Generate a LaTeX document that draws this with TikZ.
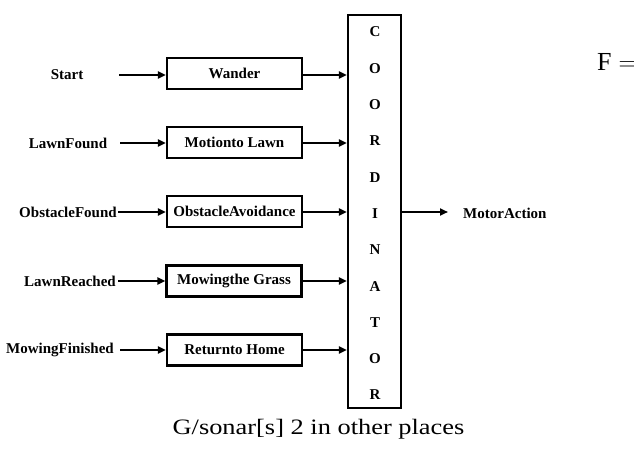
\documentclass[tikz,border=0pt]{standalone}
\usepackage{fontspec}
\setmainfont{Liberation Serif}
\usetikzlibrary{arrows.meta}
\begin{document}
\begin{tikzpicture}[x=1pt,y=-1pt,
  lbl/.style={font=\bfseries\fontsize{15}{18}\selectfont, inner sep=0pt},
  blk/.style={draw, line width=2.2pt, minimum width=135pt, minimum height=31pt, inner sep=0pt,
    font=\bfseries\fontsize{15}{18}\selectfont},
  arr/.style={line width=2.2pt, -{Triangle[length=8pt,width=7pt]}}]
\useasboundingbox (0,0) rectangle (634,449);
% coordinator
\node[draw, line width=2.2pt, minimum width=53pt, minimum height=393pt, inner sep=0pt] (coord) at (374.5,211.5) {};
\foreach \l [count=\i] in {C,O,O,R,D,I,N,A,T,O,R}
  \node[lbl] (c\i) at (375, 32+36.3*\i-36.3) {\l};
% blocks
\node[blk] (b1) at (234.5,73.5) {Wander};
\node[blk] (b2) at (234.5,142.5) {Motionto Lawn};
\node[blk] (b3) at (234.5,211.5) {ObstacleAvoidance};
\node[blk] (b4) at (234,281) {Mowingthe Grass};
\node[blk] (b5) at (234.5,350) {Returnto Home};
% input labels
\node[lbl] (i1) at (67,75) {Start};
\node[lbl] (i2) at (68,143) {LawnFound};
\node[lbl] (i3) at (68,212) {ObstacleFound};
\node[lbl] (i4) at (70,281) {LawnReached};
\node[lbl] (i5) at (60,350) {MowingFinished};
\coordinate (s1) at (119,75);
\coordinate (s2) at (120,143);
\coordinate (s3) at (118,212);
\coordinate (s4) at (118,281);
\coordinate (s5) at (120,350);
\foreach \i in {1,...,5} {
  \draw[arr] (s\i) -- (s\i -| b\i.west);
  \draw[arr] (s\i -| b\i.east) -- (s\i -| coord.west);
}
% output
\node[lbl, anchor=west] (out) at (463,213) {MotorAction};
\coordinate (o1) at (448,212);
\draw[arr] (coord.east |- o1) -- (o1);
% caption and formula fragment
\node[anchor=base, inner sep=0pt, font=\fontsize{22}{26}\selectfont] (cap) at (318.5,434)
  {\scalebox{1.2}[1]{G/sonar[s] 2 in other places}};
\node[anchor=base west, inner sep=0pt, font=\fontsize{26}{30}\selectfont] (feq) at (597,71) {$\mathrm{F} =$};
\end{tikzpicture}
\end{document}
